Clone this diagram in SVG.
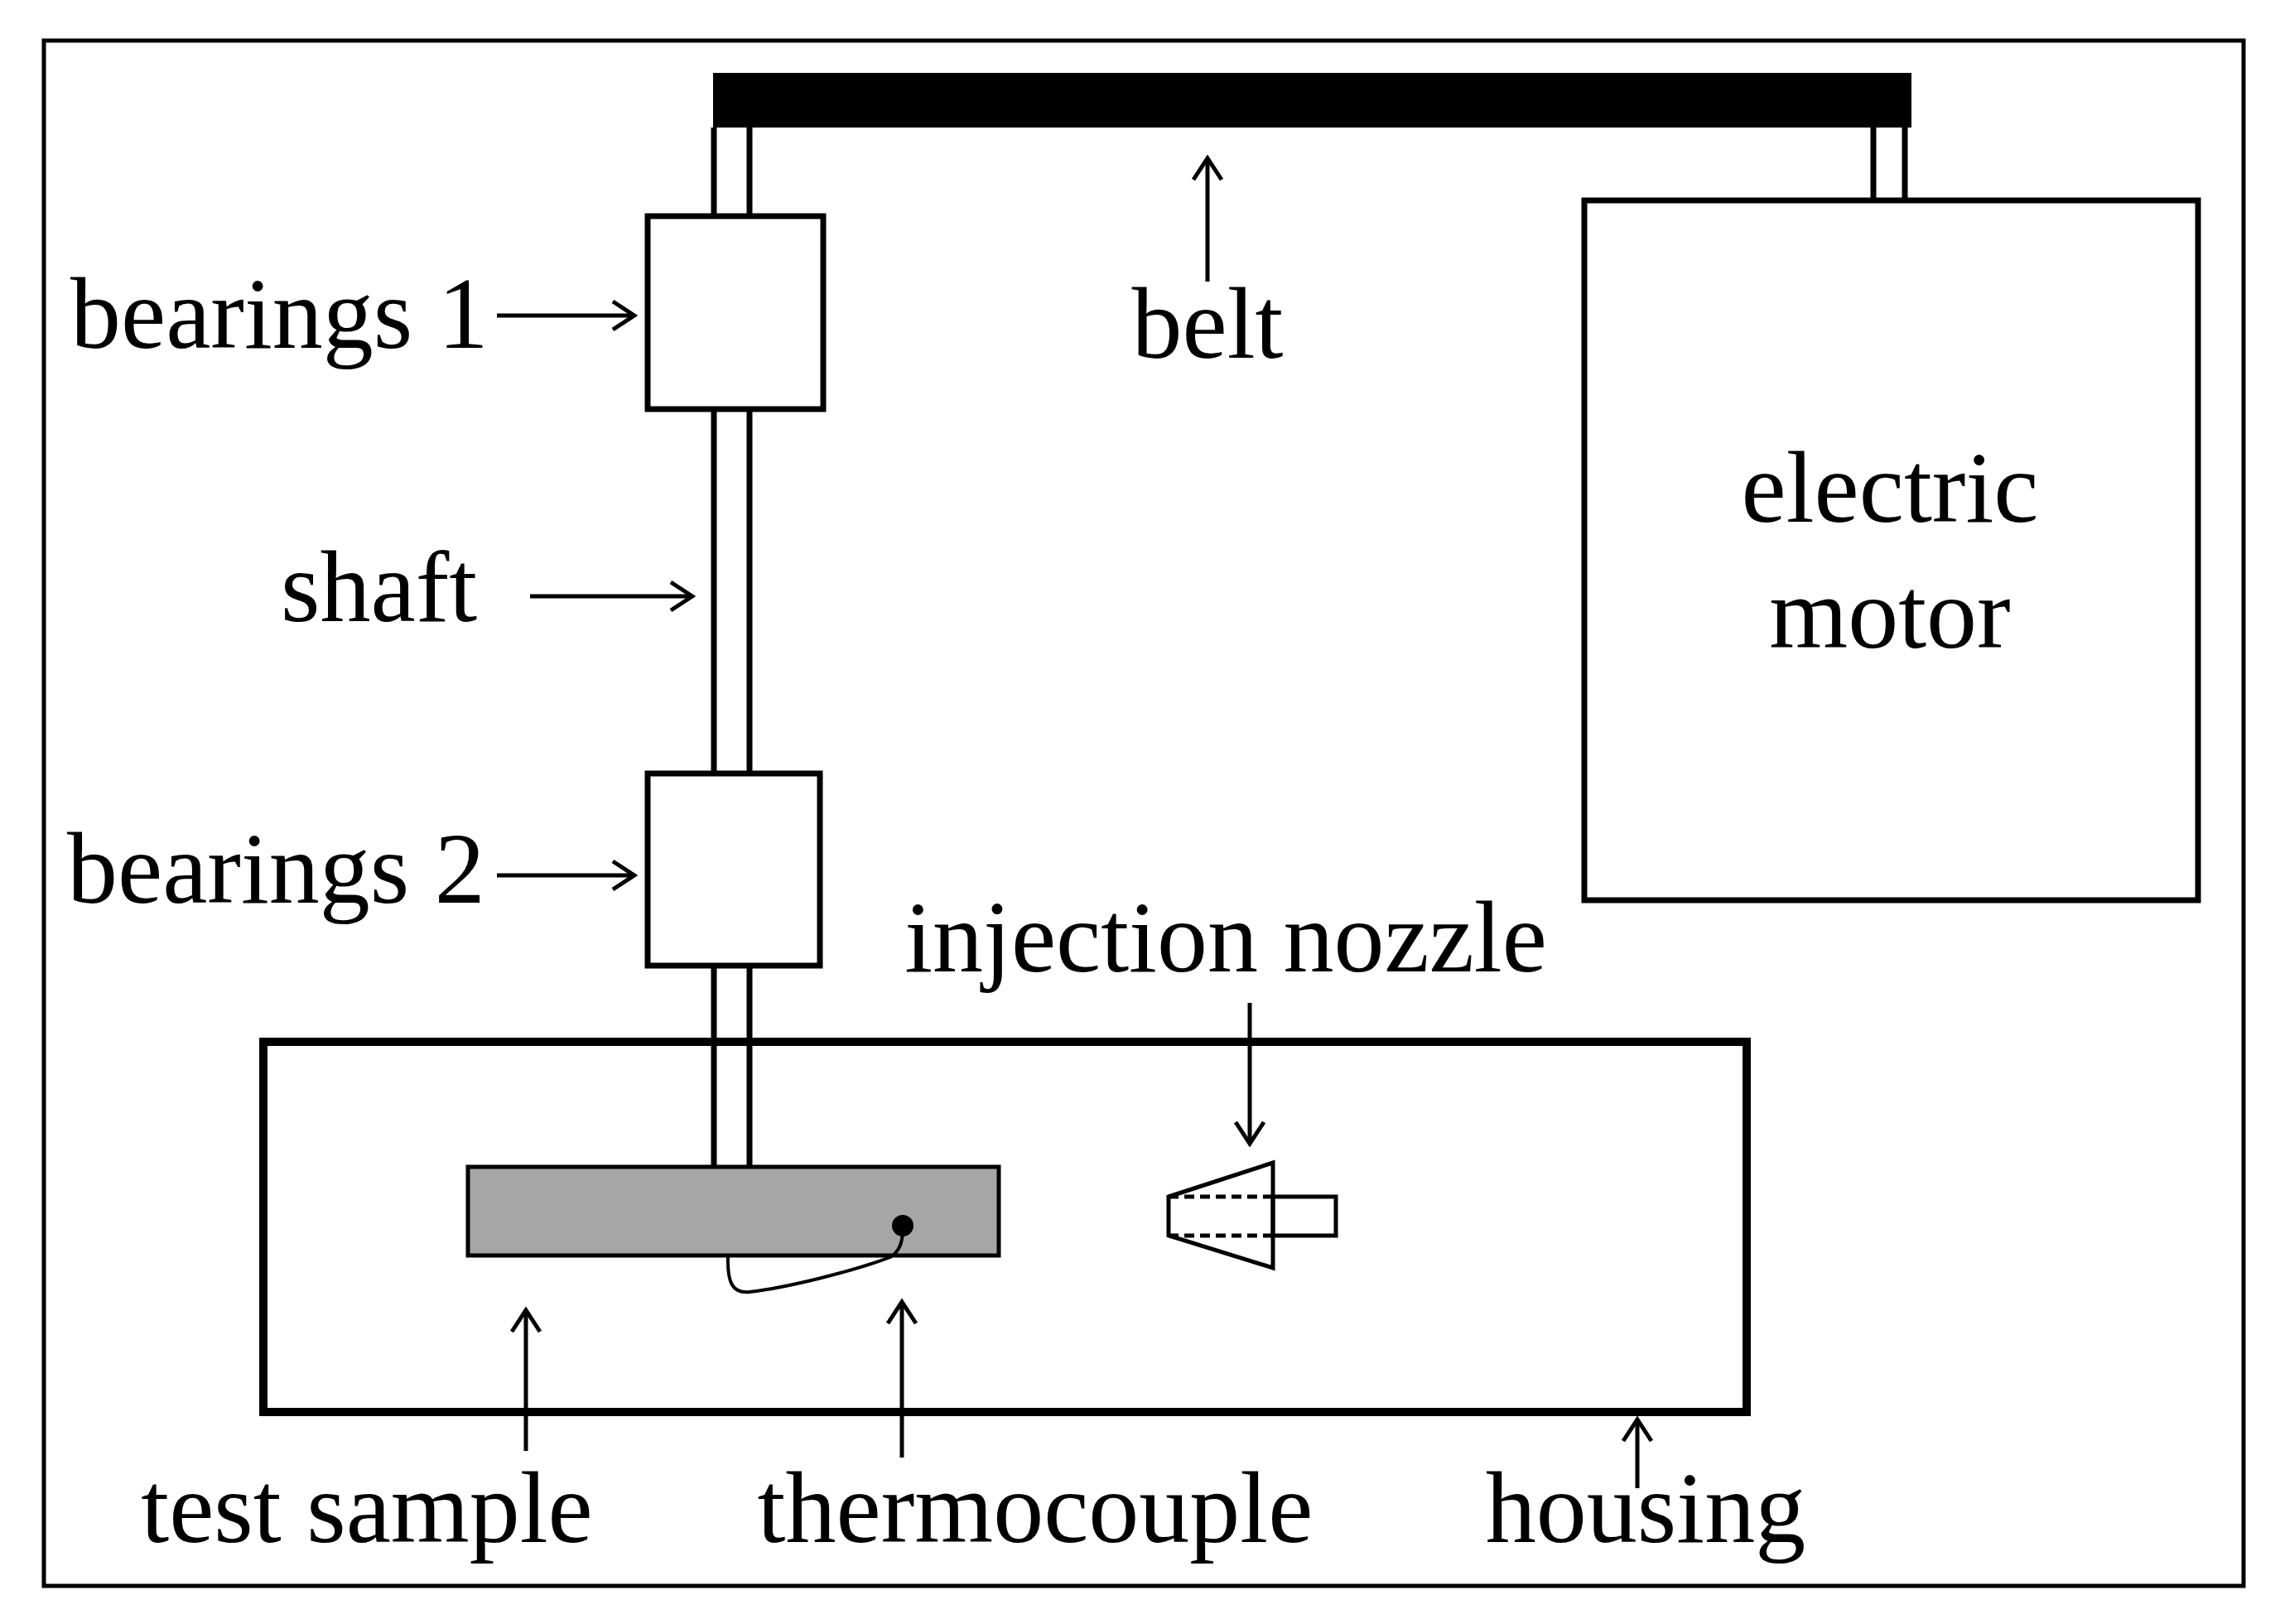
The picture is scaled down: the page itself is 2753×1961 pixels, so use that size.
<svg xmlns="http://www.w3.org/2000/svg" width="2753" height="1961" viewBox="0 0 2753 1961">
<style>
.t{font-family:"Liberation Serif","Times New Roman",serif;font-size:122px;fill:#000}
.b{fill:#fff;stroke:#000;stroke-width:7}
.a{stroke:#000;stroke-width:5;fill:none;marker-end:url(#ah)}
</style>
<defs>
<marker id="ah" markerUnits="userSpaceOnUse" viewBox="-30 -20 34 40" refX="0" refY="0" markerWidth="34" markerHeight="40" orient="auto">
<polyline points="-26,-17 0,0 -26,17" fill="none" stroke="#000" stroke-width="5"/>
</marker>
</defs>
<rect width="2753" height="1961" fill="#fff"/>
<rect x="53" y="49" width="2656" height="1866" fill="none" stroke="#000" stroke-width="5"/>
<g id="shaft"><line x1="862" y1="154" x2="862" y2="1409" stroke="#000" stroke-width="7"/><line x1="905" y1="154" x2="905" y2="1409" stroke="#000" stroke-width="7"/></g>
<g id="pulley"><line x1="2262" y1="154" x2="2262" y2="242" stroke="#000" stroke-width="7"/><line x1="2300" y1="154" x2="2300" y2="242" stroke="#000" stroke-width="7"/></g>
<g id="belt"><rect x="861" y="88" width="1447" height="66" fill="#000"/></g>
<g id="bearings1"><rect class="b" x="782" y="261" width="212" height="233"/></g>
<g id="bearings2"><rect class="b" x="782" y="934" width="208" height="232"/></g>
<g id="motor"><rect class="b" x="1913" y="242" width="741" height="845" stroke-width="9"/>
<text class="t" x="2282" y="630" text-anchor="middle">electric</text><text class="t" x="2282" y="782" text-anchor="middle">motor</text></g>
<g id="housing"><rect x="318" y="1258" width="1791" height="447" fill="none" stroke="#000" stroke-width="10"/></g>
<g id="sample"><rect x="565" y="1409" width="641" height="107" fill="#a6a6a6" stroke="#000" stroke-width="5"/>
<circle cx="1090" cy="1480" r="13" fill="#000"/>
<path d="M1090 1485 C1090 1500 1085 1512 1075 1518 C1030 1535 950 1555 905 1560 C885 1562 878 1550 879 1517" fill="none" stroke="#000" stroke-width="4"/></g>
<g id="nozzle" fill="none" stroke="#000" stroke-width="5">
<polygon points="1411,1445 1537,1404 1537,1531 1411,1492"/>
<rect x="1537" y="1445" width="76" height="47"/>
<line x1="1411" y1="1445" x2="1537" y2="1445" stroke-dasharray="12,7"/>
<line x1="1411" y1="1492" x2="1537" y2="1492" stroke-dasharray="12,7"/></g>
<g id="connectors">
<line class="a" x1="600" y1="381" x2="766" y2="381"/>
<line class="a" x1="640" y1="720" x2="836" y2="720"/>
<line class="a" x1="600" y1="1057" x2="766" y2="1057"/>
<line class="a" x1="1458" y1="340" x2="1458" y2="191"/>
<line class="a" x1="1509" y1="1211" x2="1509" y2="1381"/>
<line class="a" x1="635" y1="1752" x2="635" y2="1582"/>
<line class="a" x1="1089" y1="1760" x2="1089" y2="1572"/>
<line class="a" x1="1977" y1="1797" x2="1977" y2="1714"/>
</g>
<g id="labels">
<text class="t" x="85" y="420">bearings 1</text>
<text class="t" x="339" y="750">shaft</text>
<text class="t" x="81" y="1090">bearings 2</text>
<text class="t" x="1458" y="432" text-anchor="middle">belt</text>
<text class="t" x="1480" y="1173" text-anchor="middle">injection nozzle</text>
<text class="t" x="443" y="1862" text-anchor="middle">test sample</text>
<text class="t" x="1250" y="1862" text-anchor="middle">thermocouple</text>
<text class="t" x="1987" y="1862" text-anchor="middle">housing</text>
</g>
</svg>
